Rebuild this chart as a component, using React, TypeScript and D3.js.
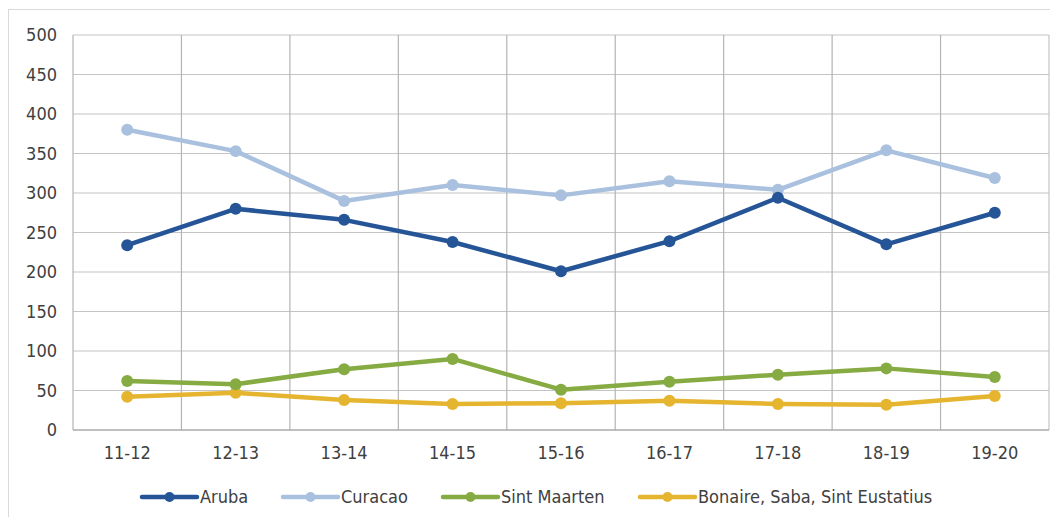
import React from "react";
import * as d3 from "d3";

const categories = ["11-12", "12-13", "13-14", "14-15", "15-16", "16-17", "17-18", "18-19", "19-20"];
const aruba = [234, 280, 266, 238, 201, 239, 294, 235, 275];
const curacao = [380, 353, 290, 310, 297, 315, 304, 354, 319];
const sintMaarten = [62, 58, 77, 90, 51, 61, 70, 78, 67];
const bonaire = [42, 47, 38, 33, 34, 37, 33, 32, 43];
const yTicks = [0, 50, 100, 150, 200, 250, 300, 350, 400, 450, 500];

const seriesNames = ["Aruba", "Curacao", "Sint Maarten", "Bonaire, Saba, Sint Eustatius"];
const seriesValues = [aruba, curacao, sintMaarten, bonaire];
const seriesColors = ["#255597", "#a9c1de", "#86ab43", "#e5b52f"];

export default function App() {
  const W = 1050, H = 517;
  const left = 73, right = 1049, top = 35, bottom = 430;
  const x = d3.scaleBand<string>().domain(categories).range([left, right]);
  const y = d3.scaleLinear().domain([0, 500]).range([bottom, top]);
  const line = d3
    .line<number>()
    .x((_, i) => (x(categories[i]) as number) + x.bandwidth() / 2)
    .y((d) => y(d));
  const font = "'DejaVu Sans Condensed', 'DejaVu Sans', sans-serif";
  const legendX = [142, 283, 443, 640];
  const legendY = 497;
  const order = [3, 2, 1, 0];
  return (
    <svg width={W} height={H} style={{ position: "absolute", left: 0, top: 0 }}>
      <rect x={0} y={0} width={W} height={H} fill="#fff" />
      <rect x={8.5} y={9.5} width={1060} height={520} fill="none" stroke="#d9d9d9" strokeWidth={1} />
      {yTicks.map((t) => (
        <line key={"h" + t} x1={left} x2={right} y1={y(t)} y2={y(t)} stroke="#c4c4c4" strokeWidth={1.2} />
      ))}
      {categories.map((c) => (
        <line key={"v" + c} x1={x(c) as number} x2={x(c) as number} y1={top} y2={bottom} stroke="#b4b4b4" strokeWidth={1.2} />
      ))}
      <line x1={right} x2={right} y1={top} y2={bottom} stroke="#c4c4c4" strokeWidth={1.2} />
      <line x1={left} x2={right} y1={bottom} y2={bottom} stroke="#a0a0a0" strokeWidth={1.2} />
      {yTicks.map((t) => (
        <text key={"yt" + t} x={57} y={y(t)} dy="0.36em" textAnchor="end" fontFamily={font} fontSize={18} fill="#404040">
          {t}
        </text>
      ))}
      {categories.map((c) => (
        <text key={"xt" + c} x={(x(c) as number) + x.bandwidth() / 2} y={453} dy="0.36em" textAnchor="middle" fontFamily={font} fontSize={18} fill="#404040">
          {c}
        </text>
      ))}
      {order.map((si) => (
        <g key={"s" + si}>
          <path d={line(seriesValues[si]) || ""} fill="none" stroke={seriesColors[si]} strokeWidth={4.5} strokeLinejoin="round" />
          {seriesValues[si].map((v, i) => (
            <circle key={i} cx={(x(categories[i]) as number) + x.bandwidth() / 2} cy={y(v)} r={6} fill={seriesColors[si]} />
          ))}
        </g>
      ))}
      {seriesNames.map((n, i) => (
        <g key={"l" + i}>
          <line x1={legendX[i]} x2={legendX[i] + 55} y1={legendY} y2={legendY} stroke={seriesColors[i]} strokeWidth={4.5} strokeLinecap="round" />
          <circle cx={legendX[i] + 27.5} cy={legendY} r={5} fill={seriesColors[i]} />
          <text x={legendX[i] + 58} y={legendY} dy="0.36em" fontFamily={font} fontSize={18} fill="#404040">
            {n}
          </text>
        </g>
      ))}
    </svg>
  );
}
